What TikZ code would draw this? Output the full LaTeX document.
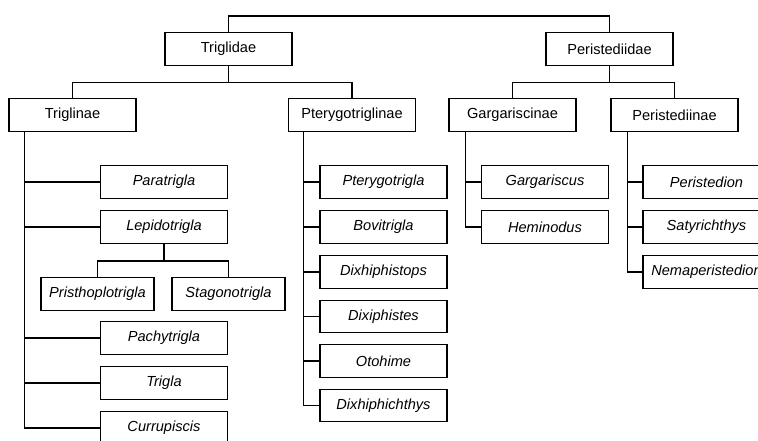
\documentclass[tikz,border=0pt]{standalone}
\usepackage{fontspec}
\setmainfont{Liberation Sans}
\usepackage{tikz}

\begin{document}
\begin{tikzpicture}[x=1pt, y=-1pt, line width=1.2pt,
  box/.style={draw, minimum width=127pt, minimum height=32.5pt, inner sep=0pt,
    outer sep=0pt, font=\fontsize{14.6}{17}\selectfont},
  genus/.style={box, font=\fontsize{14.6}{17}\selectfont\itshape}]

  \useasboundingbox (0, 0) rectangle (758, 441);

  \node[box] (tgd) at (228.5, 49) {Triglidae};
  \node[box] (prd) at (609.5, 49) {Peristediidae};
  \draw (tgd.north) -- ++(0, -16.75) -| (prd.north);

  \node[box] (tgn) at (72.5, 115) {Triglinae};
  \node[box] (ptg) at (352, 115) {Pterygotriglinae};
  \node[box] (gsc) at (512.5, 115) {Gargariscinae};
  \node[box] (pdn) at (674.5, 115) {Peristediinae};
  \draw (tgd.south) -- ++(0, 17.25) -| (tgn.north)
        (tgd.south) -- ++(0, 17.25) -| (ptg.north);
  \draw (prd.south) -- ++(0, 17.25) -| (gsc.north)
        (prd.south) -- ++(0, 17.25) -| (pdn.north);

  % Triglinae
  \node[genus] (pat) at (164, 182) {Paratrigla};
  \node[genus] (lep) at (164, 227) {Lepidotrigla};
  \node[genus, minimum width=113pt] (pri) at (97.5, 294) {Pristhoplotrigla};
  \node[genus, minimum width=113pt] (sta) at (228.5, 294) {Stagonotrigla};
  \node[genus] (pac) at (164, 338) {Pachytrigla};
  \node[genus] (tri) at (164, 383) {Trigla};
  \node[genus] (cur) at (164, 428) {Currupiscis};
  \draw foreach \g in {pat, lep, pac, tri, cur} {
    ([xshift=15.5pt]tgn.south west) |- (\g.west)};
  \draw (lep.south) -- ++(0, 17.75) -| (pri.north)
        (lep.south) -- ++(0, 17.75) -| (sta.north);

  % Pterygotriglinae
  \node[genus] (pte) at (383.5, 182) {Pterygotrigla};
  \node[genus] (bov) at (383.5, 227) {Bovitrigla};
  \node[genus] (dxs) at (383.5, 272) {Dixhiphistops};
  \node[genus] (dip) at (383.5, 316.5) {Dixiphistes};
  \node[genus] (oto) at (383.5, 361) {Otohime};
  \node[genus] (dxc) at (383.5, 405.5) {Dixhiphichthys};
  \draw foreach \g in {pte, bov, dxs, dip, oto, dxc} {
    ([xshift=15pt]ptg.south west) |- (\g.west)};

  % Gargariscinae
  \node[genus] (gar) at (545, 182) {Gargariscus};
  \node[genus] (hem) at (545, 227) {Heminodus};
  \draw foreach \g in {gar, hem} {
    ([xshift=16.5pt]gsc.south west) |- (\g.west)};

  % Peristediinae
  \node[genus] (per) at (706.5, 182) {Peristedion};
  \node[genus] (sat) at (706.5, 227) {Satyrichthys};
  \node[genus] (nem) at (706.5, 272) {Nemaperistedion};
  \draw foreach \g in {per, sat, nem} {
    ([xshift=16.5pt]pdn.south west) |- (\g.west)};

\end{tikzpicture}
\end{document}
